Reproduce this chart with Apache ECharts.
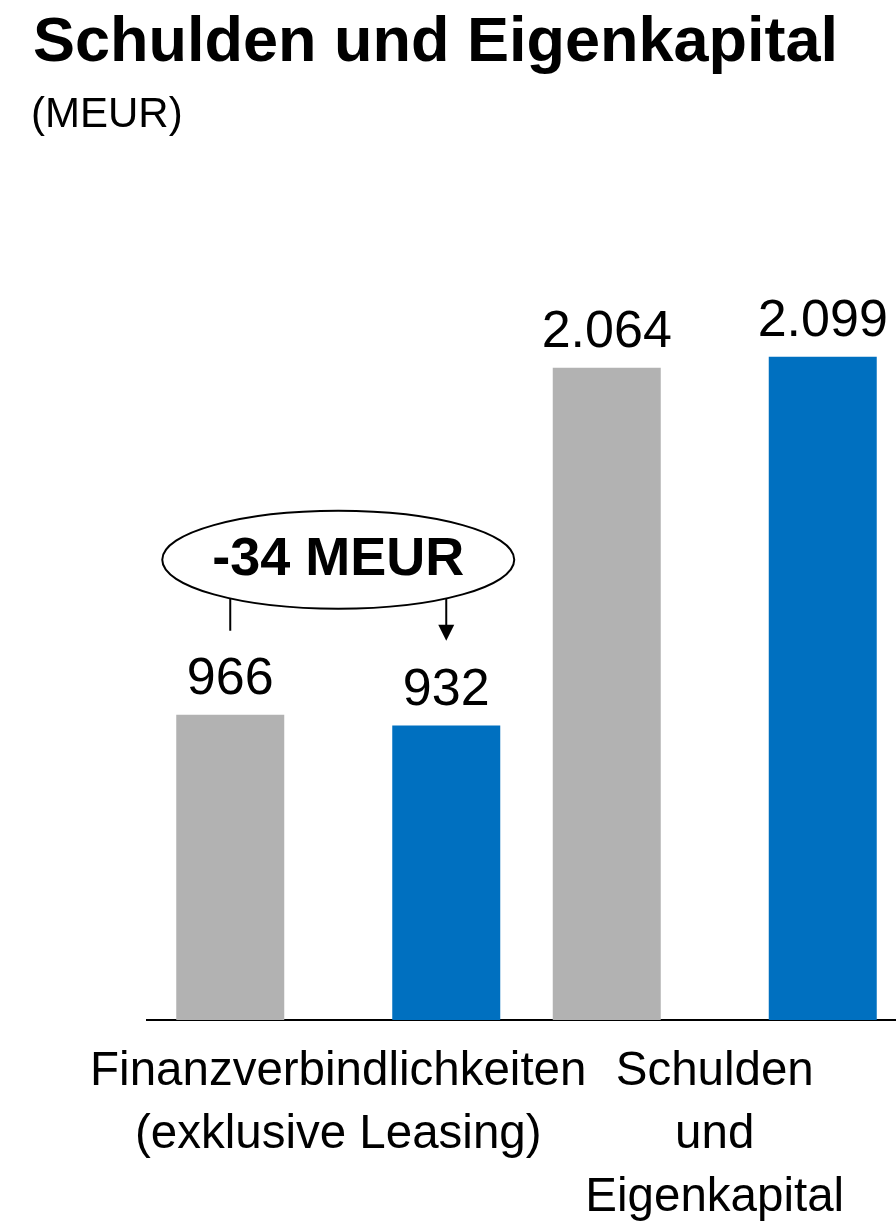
<!DOCTYPE html>
<html>
<head>
<meta charset="utf-8">
<script src="https://cdn.jsdelivr.net/npm/echarts@6/dist/echarts.min.js"></script>
<style>
html,body{margin:0;padding:0;background:#fff;overflow:hidden;width:896px;height:1229px;}
#chart{width:910px;height:1229px;}
</style>
</head>
<body>
<div id="chart"></div>
<script>
// ---- data ----
const categories = ['Finanzverbindlichkeiten\n(exklusive Leasing)', 'Schulden\nund\nEigenkapital'];
const previousValues = [966, 2064];   // grey bars
const currentValues = [932, 2099];    // blue bars
const titleText = 'Schulden und Eigenkapital';
const unitText = '(MEUR)';

const FONT = '"Liberation Sans", Arial, Helvetica, sans-serif';
const GREY = '#B2B2B2';
const BLUE = '#0070C0';

const fmt = v => {
  const s = String(Math.abs(v));
  const out = s.replace(/\B(?=(\d{3})+(?!\d))/g, '.');
  return (v < 0 ? '-' : '') + out;
};

const chart = echarts.init(document.getElementById('chart'), null, {renderer: 'canvas', width: 910, height: 1229});

const labelStyle = {
  show: true,
  position: 'top',
  distance: 9,
  fontFamily: FONT,
  fontSize: 52,
  color: '#000',
  formatter: p => fmt(p.value)
};

chart.setOption({
  animation: false,
  backgroundColor: '#fff',
  title: [
    {text: titleText, left: 28, top: 7, textStyle: {fontFamily: FONT, fontSize: 63, fontWeight: 'bold', color: '#000'}},
    {text: unitText, left: 26, top: 89, textStyle: {fontFamily: FONT, fontSize: 42, fontWeight: 'normal', color: '#000'}}
  ],
  grid: {left: 150, top: 230, width: 753, height: 795, containLabel: false},
  xAxis: {
    type: 'category',
    data: categories,
    axisLine: {show: true, lineStyle: {color: '#000', width: 2}},
    axisTick: {show: false},
    axisLabel: {
      interval: 0,
      margin: 20,
      fontFamily: FONT,
      fontSize: 47.5,
      lineHeight: 63,
      color: '#000',
      align: 'center'
    }
  },
  yAxis: {
    type: 'value',
    min: 0,
    max: 2500,
    show: false,
    splitLine: {show: false}
  },
  series: [
    {
      type: 'bar',
      data: previousValues,
      barWidth: 108,
      barGap: '100%',
      itemStyle: {color: GREY},
      label: labelStyle
    },
    {
      type: 'bar',
      data: currentValues,
      barWidth: 108,
      barGap: '100%',
      itemStyle: {color: BLUE},
      label: labelStyle
    }
  ]
});

// ---- annotation: change between the first pair of bars ----
function drawAnnotation() {
  const diff = currentValues[0] - previousValues[0];
  const catCenter = chart.convertToPixel({xAxisIndex: 0}, 0);
  const model = chart.getModel();
  const s0 = model.getSeriesByIndex(0).getData().getItemLayout(0);
  const s1 = model.getSeriesByIndex(1).getData().getItemLayout(0);
  const greyX = s0.x + s0.width / 2;
  const blueX = s1.x + s1.width / 2;
  const greyTop = chart.convertToPixel({yAxisIndex: 0}, previousValues[0]);
  const base = chart.convertToPixel({yAxisIndex: 0}, 0);
  const cy = greyTop - 155;
  const rx = 176, ry = 49;
  const yAtX = x => cy + ry * Math.sqrt(Math.max(0, 1 - Math.pow((x - catCenter) / rx, 2)));
  chart.setOption({
    graphic: [
      {type: 'ellipse', shape: {cx: catCenter, cy: cy, rx: rx, ry: ry},
       style: {fill: '#fff', stroke: '#000', lineWidth: 2}, z: 10},
      {type: 'text', x: catCenter, y: cy, z: 11,
       style: {text: fmt(diff) + ' MEUR', fontFamily: FONT, fontSize: 54, fontWeight: 'bold',
               fill: '#000', align: 'center', verticalAlign: 'middle'}},
      {type: 'line', shape: {x1: greyX, y1: yAtX(greyX), x2: greyX, y2: cy + 71},
       style: {stroke: '#000', lineWidth: 2}, z: 10},
      {type: 'line', shape: {x1: blueX, y1: yAtX(blueX), x2: blueX, y2: cy + 68},
       style: {stroke: '#000', lineWidth: 2}, z: 10},
      {type: 'polygon', shape: {points: [[blueX - 8, cy + 65], [blueX + 8, cy + 65], [blueX, cy + 81]]},
       style: {fill: '#000'}, z: 10},
      // axis line extends slightly left of the plot area in the reference
      {type: 'line', shape: {x1: 146, y1: base, x2: 151, y2: base},
       style: {stroke: '#000', lineWidth: 2}, z: 10}
    ]
  });
}
drawAnnotation();
</script>
</body>
</html>
